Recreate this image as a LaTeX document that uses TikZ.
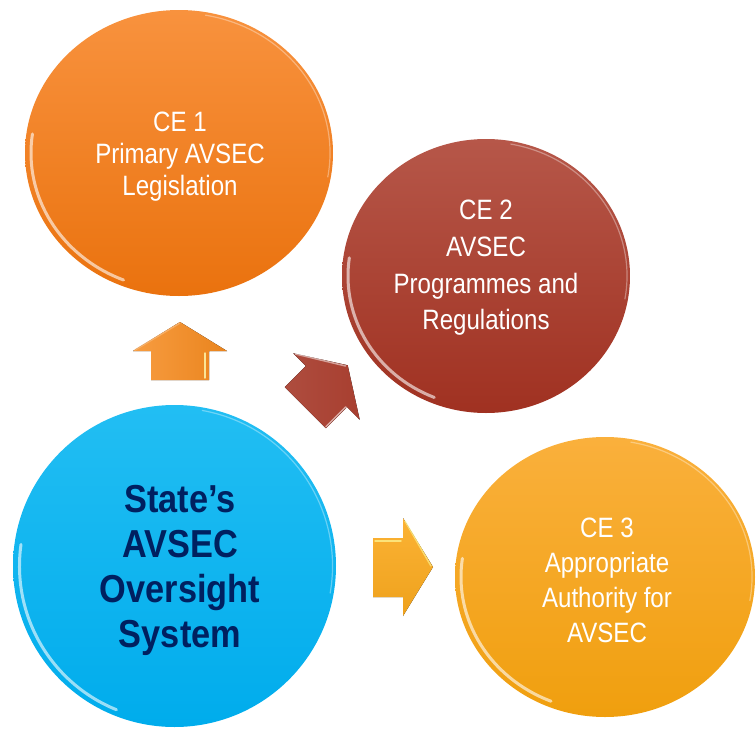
\documentclass[tikz,border=0pt]{standalone}
\usepackage{fontspec}
\setmainfont[FakeStretch=0.86]{Liberation Sans}
\newfontfamily\titlefont[FakeStretch=0.88]{Liberation Sans}
\usetikzlibrary{shapes.geometric}
\definecolor{orTop}{HTML}{F8923E}
\definecolor{orBot}{HTML}{EA720E}
\definecolor{rdTop}{HTML}{B65749}
\definecolor{rdBot}{HTML}{A03121}
\definecolor{blTop}{HTML}{22BEF3}
\definecolor{blBot}{HTML}{00ACEC}
\definecolor{ylTop}{HTML}{FAB03C}
\definecolor{ylBot}{HTML}{F09F0E}
\definecolor{navy}{HTML}{002060}
\definecolor{orArrow}{HTML}{F68B1F}
\definecolor{rdArrow}{HTML}{A83F30}
\definecolor{ylArrow}{HTML}{FBAA1E}
\begin{document}
\begin{tikzpicture}[x=1pt,y=-1pt,
  bubble/.style={ellipse, inner sep=0pt, draw=none},
  celabel/.style={text=white, align=center, inner sep=0pt},
  hilite/.style={white, line width=3pt, opacity=0.6, line cap=round},
  rim/.style={white, line width=1.2pt, opacity=0.35},
  arrowedge/.style={line width=1.5pt, line join=round, line cap=round},
]
\useasboundingbox (0,0) rectangle (756,731);

% circles
\node[bubble, top color=orTop, bottom color=orBot, minimum width=308pt, minimum height=286pt] (ce1) at (179,153) {};
\node[bubble, top color=rdTop, bottom color=rdBot, minimum width=288pt, minimum height=274pt] (ce2) at (486,276) {};
\node[bubble, top color=blTop, bottom color=blBot, minimum width=323pt, minimum height=322pt] (state) at (174.5,566) {};
\node[bubble, top color=ylTop, bottom color=ylBot, minimum width=300pt, minimum height=280pt] (ce3) at (605,577) {};

% bevel highlights
\draw[hilite] (ce1.center) ++(112:148 and 137) arc[start angle=112, end angle=188, x radius=148, y radius=137];
\draw[rim] (ce1.center) ++(280:151 and 140) arc[start angle=280, end angle=370, x radius=151, y radius=140];
\draw[hilite] (ce2.center) ++(112:138 and 131) arc[start angle=112, end angle=188, x radius=138, y radius=131];
\draw[rim] (ce2.center) ++(280:141 and 134) arc[start angle=280, end angle=370, x radius=141, y radius=134];
\draw[hilite] (state.center) ++(112:155 and 155) arc[start angle=112, end angle=188, x radius=155, y radius=155];
\draw[rim] (state.center) ++(280:158 and 158) arc[start angle=280, end angle=370, x radius=158, y radius=158];
\draw[hilite] (ce3.center) ++(112:144 and 134) arc[start angle=112, end angle=188, x radius=144, y radius=134];
\draw[rim] (ce3.center) ++(280:147 and 137) arc[start angle=280, end angle=370, x radius=147, y radius=137];

% texts
\node[celabel, font=\fontsize{28}{32}\selectfont] (t1) at (180,157) {CE 1\\Primary AVSEC\\Legislation};
\node[celabel, font=\fontsize{28}{36.7}\selectfont] (t2) at (486,268) {CE 2\\AVSEC\\Programmes and\\Regulations};
\node[celabel, font=\fontsize{28}{35}\selectfont] (t3) at (607,580) {CE 3\\Appropriate\\Authority for\\AVSEC};
\node[align=center, inner sep=0pt, text=navy, font=\titlefont\bfseries\fontsize{39}{45}\selectfont] (t0) at (180,570) {State’s\\AVSEC\\Oversight\\System};

% up arrow (orange)
\fill[left color=orArrow!85!white, right color=orArrow!95!black] (151,380) -- (151,351) -- (133,351) -- (180,322) -- (227,351) -- (209,351) -- (209,380) -- cycle;
\draw[arrowedge, white!70!yellow, opacity=0.8] (205,353) -- (205,378);
\draw[arrowedge, orArrow!60!white, opacity=0.7] (135,350) -- (180,323);

% diagonal arrow (red)
\begin{scope}[shift={(326.5,386.5)}, rotate=45]
\fill[left color=rdArrow!93!white, right color=rdArrow] (-30,-29) -- (0,-29) -- (0,-47) -- (30,0) -- (0,47) -- (0,29) -- (-30,29) -- cycle;
\draw[arrowedge, white, opacity=0.55] (-29,28) -- (-1,28) -- (-1,45);
\draw[arrowedge, white, opacity=0.5] (1,-45) -- (28,-1);
\end{scope}

% right arrow (yellow)
\fill[top color=ylArrow!90!white, bottom color=ylArrow!95!black] (373,538) -- (403,538) -- (403,518) -- (433,567) -- (403,616) -- (403,597) -- (373,597) -- cycle;
\draw[arrowedge, white!60!yellow, opacity=0.7] (375,541) -- (401,541);
\draw[arrowedge, white!60!yellow, opacity=0.6] (405,521) -- (431,566);
\end{tikzpicture}
\end{document}
